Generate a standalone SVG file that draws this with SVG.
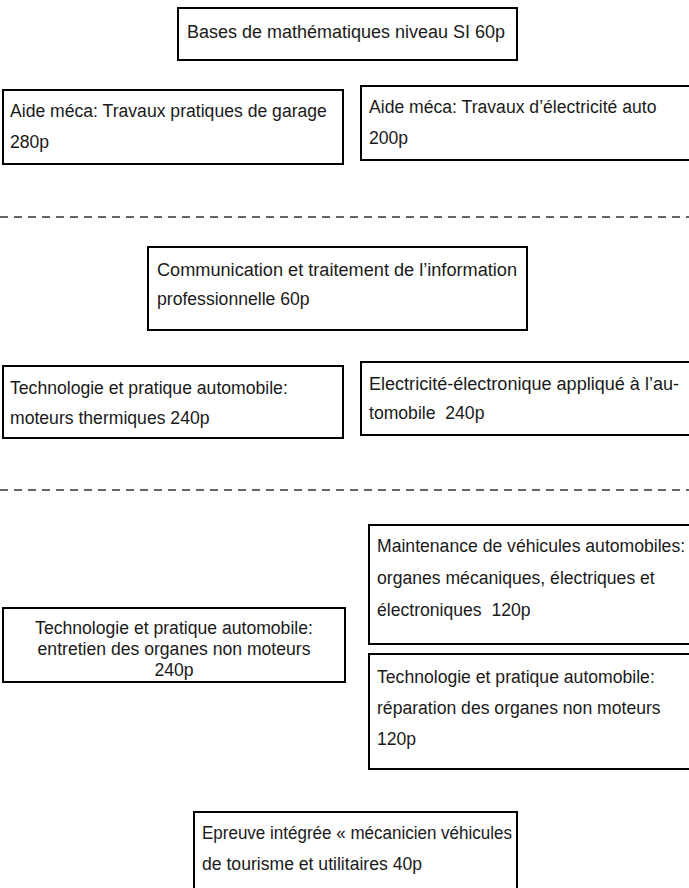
<svg xmlns="http://www.w3.org/2000/svg" width="689" height="888" viewBox="0 0 689 888">
<style>
.box{fill:#fff;stroke:#000;stroke-width:2}
.t{font-family:"Liberation Sans",Arial,sans-serif;font-size:17.6px;fill:#1a1a1a;white-space:pre}
.c{text-anchor:middle}
.sep{stroke:#333;stroke-width:1.5;stroke-dasharray:8 6;fill:none}
</style>
<rect width="689" height="888" fill="#fff"/>
<g id="connectors">
<line class="sep" x1="0" y1="217" x2="689" y2="217"/>
<line class="sep" x1="0" y1="490" x2="689" y2="490"/>
</g>
<g id="n1"><rect class="box" x="178" y="8" width="339" height="52"/><text class="t" x="187" y="38" textLength="318" lengthAdjust="spacingAndGlyphs">Bases de mathématiques niveau SI 60p</text></g>
<g id="n2"><rect class="box" x="3" y="90" width="340" height="74"/><text class="t" x="10" y="117">Aide méca: Travaux pratiques de garage</text><text class="t" x="10" y="148">280p</text></g>
<g id="n3"><rect class="box" x="361" y="86" width="330" height="74"/><text class="t" x="369" y="113">Aide méca: Travaux d’électricité auto</text><text class="t" x="369" y="144">200p</text></g>
<g id="n4"><rect class="box" x="148" y="247" width="379" height="83"/><text class="t" x="157" y="276" textLength="360" lengthAdjust="spacingAndGlyphs">Communication et traitement de l’information</text><text class="t" x="157" y="305">professionnelle 60p</text></g>
<g id="n5"><rect class="box" x="3" y="366" width="340" height="72"/><text class="t" x="10" y="394">Technologie et pratique automobile:</text><text class="t" x="10" y="424">moteurs thermiques 240p</text></g>
<g id="n6"><rect class="box" x="361" y="362" width="330" height="73"/><text class="t" x="369" y="390" textLength="310" lengthAdjust="spacingAndGlyphs">Electricité-électronique appliqué à l’au-</text><text class="t" x="369" y="419" xml:space="preserve">tomobile  240p</text></g>
<g id="n7"><rect class="box" x="369" y="525" width="322" height="119"/><text class="t" x="377" y="552">Maintenance de véhicules automobiles:</text><text class="t" x="377" y="584">organes mécaniques, électriques et</text><text class="t" x="377" y="616" xml:space="preserve">électroniques  120p</text></g>
<g id="n8"><rect class="box" x="3" y="608" width="342" height="74"/><text class="t c" x="174" y="634">Technologie et pratique automobile:</text><text class="t c" x="174" y="655">entretien des organes non moteurs</text><text class="t c" x="174" y="676">240p</text></g>
<g id="n9"><rect class="box" x="369" y="654" width="322" height="115"/><text class="t" x="377" y="683">Technologie et pratique automobile:</text><text class="t" x="377" y="714">réparation des organes non moteurs</text><text class="t" x="377" y="745">120p</text></g>
<g id="n10"><rect class="box" x="194" y="812" width="323" height="80"/><text class="t" x="202" y="839" textLength="310" lengthAdjust="spacingAndGlyphs">Epreuve intégrée « mécanicien véhicules</text><text class="t" x="202" y="870">de tourisme et utilitaires 40p</text></g>
</svg>
